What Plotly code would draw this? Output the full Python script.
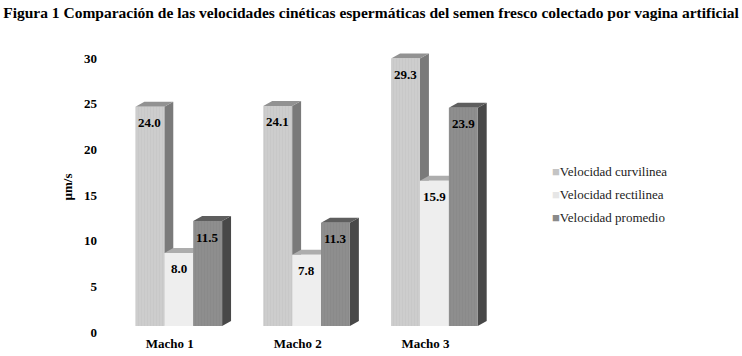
import plotly.graph_objects as go

# ---- data ----
categories = ["Macho 1", "Macho 2", "Macho 3"]
series_names = ["Velocidad curvilinea", "Velocidad rectilinea", "Velocidad promedio"]
curvilinea = [24.0, 24.1, 29.3]
rectilinea = [8.0, 7.8, 15.9]
promedio = [11.5, 11.3, 23.9]
y_ticks = [0, 5, 10, 15, 20, 25, 30]
title_text = ("Figura 1 Comparación de las velocidades cinéticas espermáticas "
              "del semen fresco colectado por vagina artificial")
y_title = "µm/s"

series_values = [curvilinea, rectilinea, promedio]

# ---- style ----
FONT = "Liberation Serif"
front_colors = ["#cbcbcb", "#eeeeee", "#8c8c8c"]
top_colors = ["#929292", "#adadad", "#5e5e5e"]
side_colors = ["#7a7a7a", "#9a9a9a", "#484848"]
legend_colors = ["#c4c4c4", "#e6e6e6", "#8a8a8a"]
patterns = [dict(shape="|", fgcolor="#c2c2c2", bgcolor="#cdcdcd", size=3, solidity=0.3),
            None,
            dict(shape="|", fgcolor="#848484", bgcolor="#8e8e8e", size=3, solidity=0.3)]

BAR_W = 0.226        # bar width in category units
CLUSTER_SHIFT = 0.07 # cluster offset to the right of the category label
DX = 0.07            # 3D depth, x (category units)
DY = 0.55            # 3D depth, y (value units)
LIFT = 0.65          # front floor lift (value units)

fig = go.Figure()

def add_poly(xs, ys, color, pattern=None):
    kw = dict(x=xs, y=ys, mode="lines", fill="toself", fillcolor=color,
              line=dict(width=0, color=color), hoverinfo="skip", showlegend=False)
    if pattern is not None:
        kw["fillpattern"] = pattern
    fig.add_trace(go.Scatter(**kw))

annotations = []
for j, vals in enumerate(series_values):
    sx, sy, tx, ty, fx, fy = [], [], [], [], [], []
    for i, v in enumerate(vals):
        c = i + CLUSTER_SHIFT + (j - 1) * BAR_W
        x0, x1 = c - BAR_W / 2, c + BAR_W / 2
        b, t = LIFT, LIFT + v
        sx += [x1, x1 + DX, x1 + DX, x1, x1, None]
        sy += [b, b + DY, t + DY, t, b, None]
        tx += [x0, x1, x1 + DX, x0 + DX, x0, None]
        ty += [t, t, t + DY, t + DY, t, None]
        fx += [x0, x1, x1, x0, x0, None]
        fy += [b, b, t, t, b, None]
        annotations.append(dict(x=c, y=t, xref="x", yref="y", text=f"<b>{v:.1f}</b>",
                                showarrow=False, yshift=-16,
                                font=dict(family=FONT, size=13, color="#000000")))
    add_poly(sx, sy, side_colors[j])
    add_poly(tx, ty, top_colors[j])
    add_poly(fx, fy, front_colors[j], patterns[j])

# legend entries (square glyph drawn as part of the label)
for j, name in enumerate(series_names):
    fig.add_trace(go.Scatter(
        x=[None], y=[None], mode="markers",
        name=f"<span style='color:{legend_colors[j]};font-size:13px'>■</span>{name}",
        legendgroup=name,
        marker=dict(symbol="square", size=1, color="rgba(0,0,0,0)", line=dict(width=0))))

fig.update_layout(
    width=742, height=356,
    margin=dict(l=104, r=222, t=40, b=22),
    paper_bgcolor="white", plot_bgcolor="white",
    font=dict(family=FONT, size=13, color="#000000"),
    title=dict(text="<b>" + title_text + "</b>", x=0.5, xanchor="center",
               y=1 - 13 / 356, yanchor="middle", xref="container", yref="container",
               font=dict(family=FONT, size=15.5, color="#000000")),
    xaxis=dict(range=[-0.515, 2.677], tickvals=list(range(len(categories))),
               ticktext=["<b>" + c + "</b>" for c in categories],
               showgrid=False, zeroline=False, showline=False, ticks="",
               automargin=False,
               tickfont=dict(family=FONT, size=13)),
    yaxis=dict(range=[-0.219, 31.97], tickvals=y_ticks,
               ticktext=["<b>" + str(t) + "</b>" for t in y_ticks],
               showgrid=False, zeroline=False, showline=False, ticks="",
               automargin=False, ticklabelstandoff=6,
               tickfont=dict(family=FONT, size=13),
               title=dict(text="<b>" + y_title + "</b>", standoff=8,
                          font=dict(family=FONT, size=13))),
    legend=dict(xref="container", yref="container", x=512 / 742, y=1 - 156 / 356,
                xanchor="left", yanchor="top", tracegroupgap=3,
                font=dict(family=FONT, size=13, color="#222222"),
                itemwidth=30),
    annotations=annotations,
    showlegend=True,
)

fig.write_html("out.html", config={"displayModeBar": False},
               post_script="document.body.style.margin='0';document.body.style.padding='0';")
